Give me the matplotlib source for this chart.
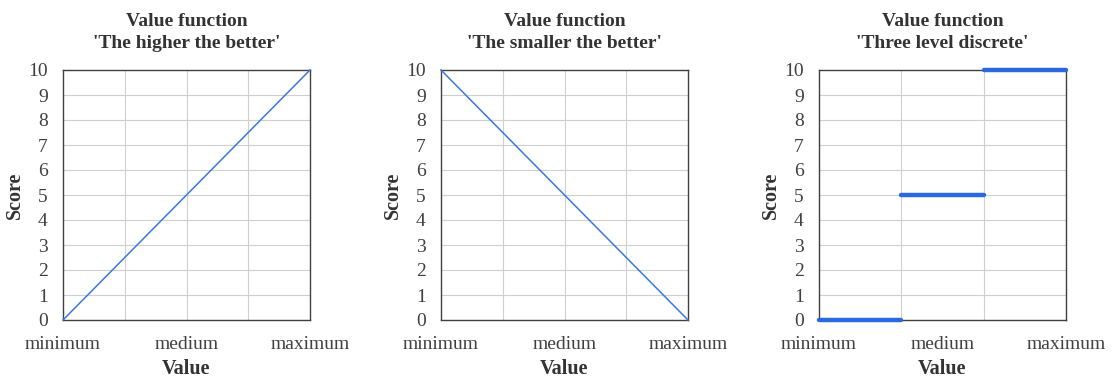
import matplotlib
matplotlib.use("Agg")
import matplotlib.pyplot as plt
import numpy as np

plt.rcParams['font.family'] = ['Liberation Serif', 'DejaVu Serif']

titles = ["Value function\n'The higher the better'",
          "Value function\n'The smaller the better'",
          "Value function\n'Three level discrete'"]
xtick_labels = ["minimum", "medium", "maximum"]
xtick_pos = [0.0, 0.5, 1.0]
yticks = list(range(0, 11))

# Panel 1 & 2: linear value functions (fraction of value range -> score)
higher_x = [0.0, 1.0]
higher_y = [0, 10]
smaller_x = [0.0, 1.0]
smaller_y = [10, 0]
# Panel 3: three-level step segments (start, end, score)
disc_start = [0.0, 1/3, 2/3]
disc_end = [1/3, 2/3, 1.0]
disc_score = [0, 5, 10]

vgrid_linear = [0.25, 0.5, 0.75]
vgrid_disc = [1/3, 2/3]

fig = plt.figure(figsize=(11.16, 3.79), dpi=100)
W, H = 1116, 379
lefts = [63, 441, 819]
axw, axh = 247, 250
bottom = 379 - 320
axes = [fig.add_axes([l / W, bottom / H, axw / W, axh / H]) for l in lefts]

line_color = '#3b78e0'
for i, ax in enumerate(axes):
    ax.set_xlim(0, 1)
    ax.set_ylim(0, 10)
    ax.set_yticks(yticks)
    ax.set_xticks(xtick_pos)
    ax.set_xticklabels(xtick_labels)
    ax.tick_params(axis='both', length=0, labelsize=14, colors='#404040')
    ax.tick_params(axis='x', pad=11.5)
    ax.tick_params(axis='y', pad=11)
    ax.grid(False)
    for y in yticks[1:-1]:
        ax.axhline(y, color='#d0d0d0', lw=0.8, zorder=0)
    vg = vgrid_disc if i == 2 else vgrid_linear
    for x in vg:
        ax.axvline(x, color='#d0d0d0', lw=0.8, zorder=0)
    for s in ax.spines.values():
        s.set_color('#404040')
        s.set_linewidth(1.0)
    ax.set_title(titles[i], fontsize=14, fontweight='bold', color='#333333', pad=15.5, linespacing=1.4)
    ax.set_xlabel('Value', fontsize=14.5, fontweight='bold', color='#333333', labelpad=4.5)
    ax.set_ylabel('Score', fontsize=14.5, fontweight='bold', color='#333333', labelpad=2)

axes[0].plot(higher_x, higher_y, color=line_color, lw=1.1, clip_on=False, zorder=3)
axes[1].plot(smaller_x, smaller_y, color=line_color, lw=1.1, clip_on=False, zorder=3)
for s, e, v in zip(disc_start, disc_end, disc_score):
    axes[2].plot([s, e], [v, v], color='#2a68e0', lw=3.2, clip_on=False, zorder=3,
                 solid_capstyle='round')

fig.savefig('out.png', dpi=100)
